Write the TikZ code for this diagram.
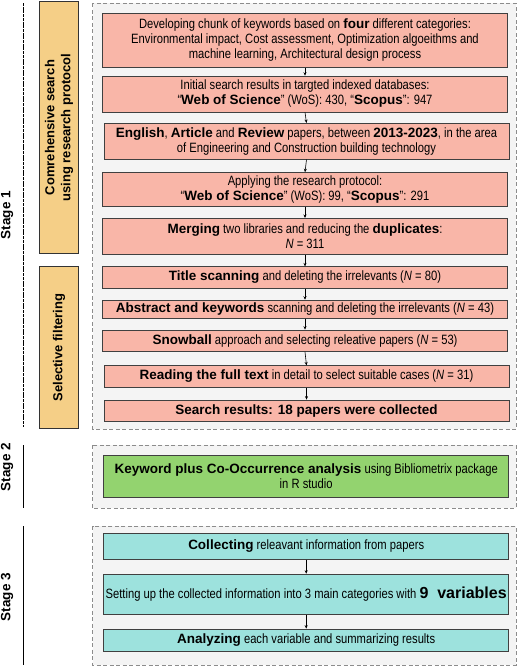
\documentclass[tikz,border=0pt]{standalone}
\usepackage{fontspec}
\setmainfont{Liberation Sans}[UprightFeatures={FakeStretch=0.83},ItalicFeatures={FakeStretch=0.83}]
\usepackage{tikz}
\usetikzlibrary{arrows.meta}
\usetikzlibrary{calc}
\definecolor{pinkbox}{HTML}{F9B6A8}
\definecolor{orangebox}{HTML}{F5CF87}
\definecolor{greenbox}{HTML}{93D36F}
\definecolor{tealbox}{HTML}{9DE2DD}
\definecolor{framefill}{HTML}{F4F4F4}
\definecolor{framedraw}{HTML}{8C8C8C}

\begin{document}
\begin{tikzpicture}[x=1pt, y=-1pt, >={Stealth[length=3.5pt,width=3pt]},
    box/.style={draw=black!75, line width=0.6pt, rectangle, minimum width=405pt, inner sep=1pt, align=center, font=\fontsize{13.5}{15}\selectfont},
    frame/.style={draw=framedraw, fill=framefill, line width=0.8pt, dash pattern=on 4pt off 2.5pt},
    sidebox/.style={draw=black!80, fill=orangebox, line width=0.6pt, minimum height=39.4pt, inner sep=1pt, rotate=90, align=center, font=\fontsize{13}{16}\selectfont\bfseries},
    stagelbl/.style={rotate=90, font=\fontsize{13.5}{15}\selectfont\bfseries}]

    \useasboundingbox (0,0) rectangle (520,667);

    % Frames of the three stages
    \draw[frame] (92.7,3.3) rectangle (516,429);
    \draw[frame] (92.7,445) rectangle (516,508.3);
    \draw[frame] (92.7,526) rectangle (516,665);

    % Stage marks
    \draw[line width=1pt, dash pattern=on 3pt off 0.7pt] (23.3,3) -- (23.3,427);
    \draw[line width=1.2pt] (23.3,445) -- (23.3,508);
    \draw[line width=1.2pt] (23.3,526) -- (23.3,665);
    \node (s1) [stagelbl] at (7,215) {Stage 1};
    \node (s2) [stagelbl] at (7,467) {Stage 2};
    \node (s3) [stagelbl] at (7,597) {Stage 3};

    % Side boxes
    \node (prot) [sidebox, minimum width=251.6pt] at (59,127.5) {Comrehensive search\\using research protocol};
    \node (filt) [sidebox, minimum width=161.6pt] at (59,347.5) {Selective filtering};

    % Stage 1 nodes
    \node (b1) [box, fill=pinkbox, minimum height=54pt] at (305,40.5) {Developing chunk of keywords based on \textbf{four} different categories:\\ Environmental impact, Cost assessment, Optimization algoeithms and\\ machine learning, Architectural design process};
    \node (b2) [box, fill=pinkbox, minimum height=36pt] at (305,94) {Initial search results in targted indexed databases:\\ “\textbf{Web of Science}” (WoS): 430, “\textbf{Scopus}”: 947};
    \node (b3) [box, fill=pinkbox, minimum height=36pt] at (306.5,141.3) {\textbf{English}, \textbf{Article} and \textbf{Review} papers, between \textbf{2013-2023}, in the area\\ of Engineering and Construction building technology};
    \node (b4) [box, fill=pinkbox, minimum height=34pt] at (305,189.5) {Applying the research protocol:\\ “\textbf{Web of Science}” (WoS): 99, “\textbf{Scopus}”: 291};
    \node (b5) [box, fill=pinkbox, minimum height=36pt] at (305,236.3) {\textbf{Merging} two libraries and reducing the \textbf{duplicates}:\\ \textit{N} = 311};
    \node (b6) [box, fill=pinkbox, minimum height=21.6pt] at (305,277.5) {\textbf{Title scanning} and deleting the irrelevants (\textit{N} = 80)};
    \node (b7) [box, fill=pinkbox, minimum height=18.3pt] at (305,309.2) {\textbf{Abstract and keywords} scanning and deleting the irrelevants (\textit{N} = 43)};
    \node (b8) [box, fill=pinkbox, minimum height=21.7pt] at (305,340.8) {\textbf{Snowball} approach and selecting releative papers (\textit{N} = 53)};
    \node (b9) [box, fill=pinkbox, minimum height=21.6pt] at (306.5,376.5) {\textbf{Reading the full text} in detail to select suitable cases (\textit{N} = 31)};
    \node (b10) [box, fill=pinkbox, minimum height=21.7pt] at (306.5,410.8) {\textbf{Search results: 18 papers were collected}};

    % Stage 2 node
    \node (kw) [box, fill=greenbox, minimum height=42.3pt] at (306.2,476.2) {\textbf{Keyword plus Co-Occurrence analysis} using Bibliometrix package\\ in R studio};

    % Stage 3 nodes
    \node (c1) [box, fill=tealbox, minimum height=26pt] at (306.2,546.3) {\textbf{Collecting} releavant information from papers};
    \node (c2) [box, fill=tealbox, minimum height=40.3pt] at (306.2,594.2) {Setting up the collected information into 3 main categories with \textbf{\fontsize{16}{18}\selectfont 9~ variables}};
    \node (c3) [box, fill=tealbox, minimum height=22.7pt] at (306.2,640.3) {\textbf{Analyzing} each variable and summarizing results};

    % Draw arrows
    \foreach \a/\b in {b1/b2, b2/b3, b3/b4, b4/b5, b5/b6, b6/b7, b7/b8, b8/b9, b9/b10, c1/c2, c2/c3}
        \draw[->, line width=0.6pt] (\a.south) -- (\b.north);

\end{tikzpicture}
\end{document}
